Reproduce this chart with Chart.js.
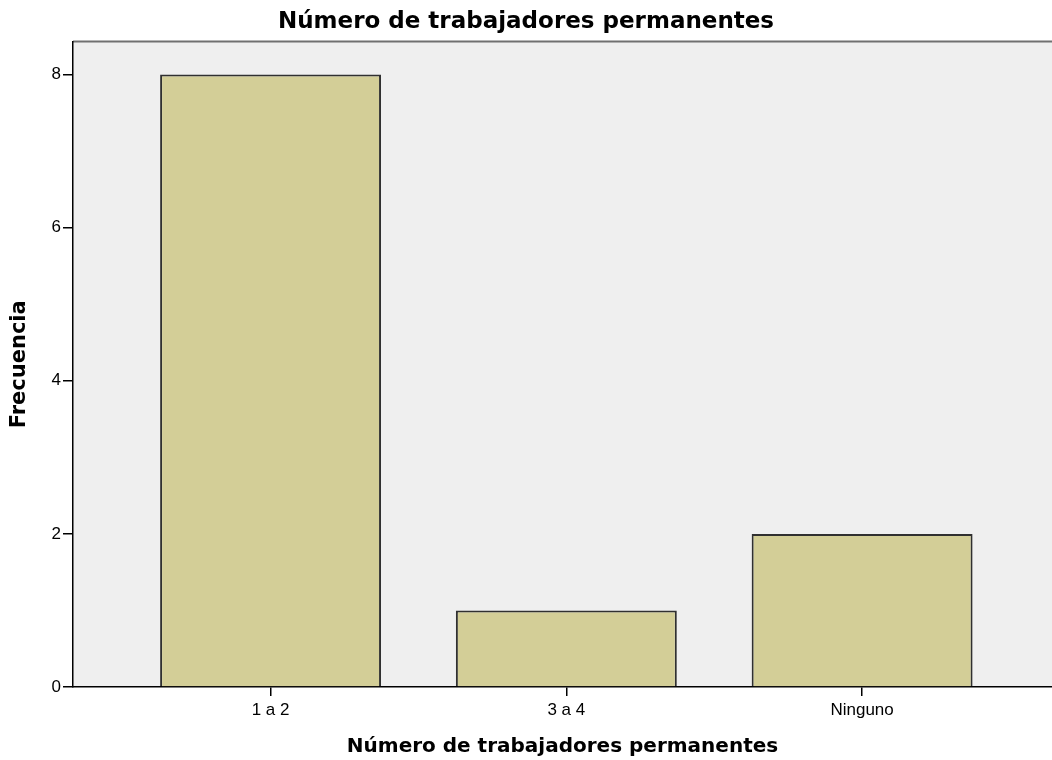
<!DOCTYPE html>
<html>
<head>
<meta charset="utf-8">
<script src="https://cdn.jsdelivr.net/npm/chart.js@4/dist/chart.umd.min.js"></script>
<style>
  html, body { margin: 0; padding: 0; background: #fff; }
  #wrap { width: 1052px; height: 760px; }
</style>
</head>
<body>
<div id="wrap"><canvas id="grafico" width="1052" height="760"></canvas></div>
<script>
const categorias = ['1 a 2', '3 a 4', 'Ninguno'];
const frecuencias = [8, 1, 2];
const ticksY = [0, 2, 4, 6, 8];

const titulo = 'Número de trabajadores permanentes';

// fondo gris del área de trazado y línea superior
const fondoPlot = {
  id: 'fondoPlot',
  beforeDraw(chart) {
    const { ctx, chartArea: a } = chart;
    ctx.save();
    ctx.fillStyle = '#efefef';
    ctx.fillRect(a.left, a.top, a.right - a.left, a.bottom - a.top);
    ctx.strokeStyle = '#707070';
    ctx.lineWidth = 2;
    ctx.beginPath();
    ctx.moveTo(a.left, a.top);
    ctx.lineTo(a.right, a.top);
    ctx.stroke();
    ctx.restore();
  }
};

new Chart(document.getElementById('grafico'), {
  type: 'bar',
  data: {
    datasets: [{
      label: 'Frecuencia',
      data: frecuencias.map((v, i) => ({ x: i + 1, y: v })),
      backgroundColor: '#d3ce97',
      borderColor: '#303030',
      borderWidth: 2,
      barPercentage: 0.747,
      categoryPercentage: 1
    }]
  },
  options: {
    responsive: false,
    animation: false,
    layout: { padding: 0 },
    plugins: {
      legend: { display: false },
      tooltip: { enabled: false },
      title: {
        display: true,
        text: titulo,
        color: '#000',
        font: { family: 'DejaVu Sans', size: 23, weight: 'bold' },
        padding: { top: 8, bottom: 6 }
      }
    },
    scales: {
      x: {
        type: 'linear',
        offset: false,
        min: 0.332,
        max: 3.642,
        afterBuildTicks: (scale) => {
          scale.ticks = categorias.map((c, i) => ({ value: i + 1 }));
        },
        ticks: {
          autoSkip: false,
          maxRotation: 0,
          color: '#000',
          padding: 4,
          font: { family: 'Liberation Sans', size: 17 },
          callback: (v) => categorias[v - 1] ?? ''
        },
        grid: {
          offset: false,
          drawOnChartArea: false,
          drawTicks: true,
          tickLength: 9,
          color: '#000',
          lineWidth: 1.5
        },
        border: { display: true, color: '#000', width: 1.5 },
        title: {
          display: true,
          text: titulo,
          color: '#000',
          font: { family: 'DejaVu Sans', size: 20, weight: 'bold' },
          padding: { top: 0, bottom: 1 }
        },
        afterFit: (scale) => { scale.height = 73; }
      },
      y: {
        min: 0,
        max: 8.431,
        afterBuildTicks: (scale) => {
          scale.ticks = ticksY.map(v => ({ value: v }));
        },
        ticks: {
          color: '#000',
          padding: 2,
          font: { family: 'Liberation Sans', size: 17 }
        },
        grid: {
          drawOnChartArea: false,
          drawTicks: true,
          tickLength: 10,
          color: '#000',
          lineWidth: 1.5
        },
        border: { display: true, color: '#000', width: 1.5 },
        title: {
          display: true,
          text: 'Frecuencia',
          color: '#000',
          font: { family: 'DejaVu Sans', size: 21, weight: 'bold' },
          padding: { top: 7, bottom: 0 }
        },
        afterFit: (scale) => { scale.width = 73; }
      }
    }
  },
  plugins: [fondoPlot]
});
</script>
</body>
</html>
